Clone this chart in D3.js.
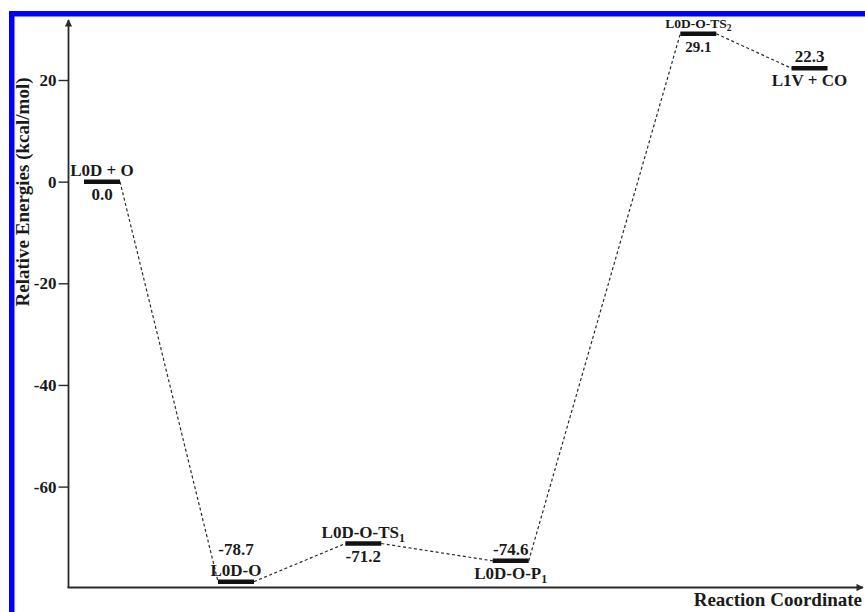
<!DOCTYPE html>
<html>
<head>
<meta charset="utf-8">
<script src="https://cdn.jsdelivr.net/npm/d3@7"></script>
<style>
  html, body { margin: 0; padding: 0; background: #fff; }
  svg { display: block; }
  text { font-family: "Liberation Serif", "Times New Roman", serif; font-weight: bold; fill: #1a1a1a; }
</style>
</head>
<body>
<svg id="chart" width="865" height="612"></svg>
<script>
// Species along the reaction path
const species   = ["L0D + O", "L0D-O", "L0D-O-TS", "L0D-O-P", "L0D-O-TS", "L1V + CO"];
const subscript = ["", "", "1", "1", "2", ""];
// Relative energies, kcal/mol
const energies  = [0.0, -78.7, -71.2, -74.6, 29.1, 22.3];
const energyLabels = ["0.0", "-78.7", "-71.2", "-74.6", "29.1", "22.3"];
// Position of each species along the reaction coordinate
const coordinate = [0, 1.0, 1.95, 3.05, 4.45, 5.28];
// Energy axis ticks
const yTicks = [20, 0, -20, -40, -60];

const W = 865, H = 612;
const svg = d3.select("#chart");

const axisX = 68.5, axisY = 587.5;
const barW = 36;

const y = d3.scaleLinear().domain([-60, 20]).range([486.6, 80]);
const x = d3.scaleLinear().domain([0, 1]).range([102, 236]);

// Frame edges
svg.append("rect").attr("x", 9).attr("y", 11).attr("width", W - 9).attr("height", 5.5).attr("fill", "#0000ff");
svg.append("rect").attr("x", 9).attr("y", 11).attr("width", 5.5).attr("height", H - 11).attr("fill", "#0000ff");

// Arrowheads
const defs = svg.append("defs");
defs.append("marker")
  .attr("id", "arrow").attr("viewBox", "0 0 10 10")
  .attr("refX", 9).attr("refY", 5)
  .attr("markerWidth", 5).attr("markerHeight", 4)
  .attr("markerUnits", "strokeWidth")
  .attr("orient", "auto")
  .append("path").attr("d", "M0,0 L10,5 L0,10 Z").attr("fill", "#2a2a2a");

// Axes with arrows
svg.append("line").attr("x1", axisX).attr("y1", axisY).attr("x2", axisX).attr("y2", 20)
  .attr("stroke", "#2a2a2a").attr("stroke-width", 1.8).attr("marker-end", "url(#arrow)");
svg.append("line").attr("x1", axisX - 1).attr("y1", axisY).attr("x2", 863).attr("y2", axisY)
  .attr("stroke", "#2a2a2a").attr("stroke-width", 1.8).attr("marker-end", "url(#arrow)");

// Energy ticks
const yAxis = svg.append("g")
  .attr("transform", `translate(${axisX},0)`)
  .call(d3.axisLeft(y).tickValues(yTicks).tickSize(10).tickPadding(2).tickFormat(d => String(d)));
yAxis.select(".domain").remove();
yAxis.selectAll(".tick line").attr("stroke", "#2a2a2a").attr("stroke-width", 1.4);
yAxis.attr("font-family", null).attr("font-size", null);
yAxis.selectAll(".tick text")
  .style("font-family", "'Liberation Serif', serif").style("font-weight", "bold")
  .style("font-size", "17px").style("fill", "#1a1a1a");

// Axis titles
svg.append("text")
  .attr("transform", "translate(29,192) rotate(-90)")
  .attr("text-anchor", "middle").attr("font-size", 19)
  .text("Relative Energies (kcal/mol)");
svg.append("text")
  .attr("x", 862).attr("y", 606).attr("text-anchor", "end").attr("font-size", 19)
  .text("Reaction Coordinate");

const levels = species.map((name, i) => ({
  name, sub: subscript[i], e: energies[i], label: energyLabels[i],
  cx: x(coordinate[i]), cy: y(energies[i]), i
}));

// Dashed connectors between consecutive levels
svg.append("g").selectAll("line")
  .data(d3.pairs(levels))
  .join("line")
  .attr("x1", d => d[0].cx + barW / 2).attr("y1", d => d[0].cy)
  .attr("x2", d => d[1].cx - barW / 2).attr("y2", d => d[1].cy)
  .attr("stroke", "#2a2a2a").attr("stroke-width", 1.2)
  .attr("stroke-dasharray", "3,2.5");

// Energy levels
svg.append("g").selectAll("line")
  .data(levels)
  .join("line")
  .attr("x1", d => d.cx - barW / 2).attr("x2", d => d.cx + barW / 2)
  .attr("y1", d => d.cy).attr("y2", d => d.cy)
  .attr("stroke", "#111").attr("stroke-width", 4.5);

// Labels: names and energies alternate above/below the level
function nameText(g, d, yPos, size) {
  const t = g.append("text").attr("x", d.cx).attr("y", yPos)
    .attr("text-anchor", "middle").attr("font-size", size).text(d.name);
  if (d.sub) {
    t.append("tspan").attr("dy", size * 0.25).attr("font-size", size * 0.7).text(d.sub);
  }
}
function valueText(g, d, yPos, size) {
  g.append("text").attr("x", d.cx).attr("y", yPos)
    .attr("text-anchor", "middle").attr("font-size", size).text(d.label);
}

const labels = svg.append("g");
levels.forEach(d => {
  const above = d.cy - 6, below = d.cy + 18;
  const nearTop = d.cy < 45;
  const nameSize = nearTop ? 13.5 : 17;
  const valueSize = nearTop ? 15 : 17;
  if (d.i % 2 === 0) {
    nameText(labels, d, above, nameSize);
    valueText(labels, d, below, valueSize);
  } else if (below + 4 > axisY) {
    // no room beneath: stack both labels above the level
    valueText(labels, d, above - 21, valueSize);
    nameText(labels, d, above, nameSize);
  } else {
    valueText(labels, d, above, valueSize);
    nameText(labels, d, below, nameSize);
  }
});
</script>
</body>
</html>
